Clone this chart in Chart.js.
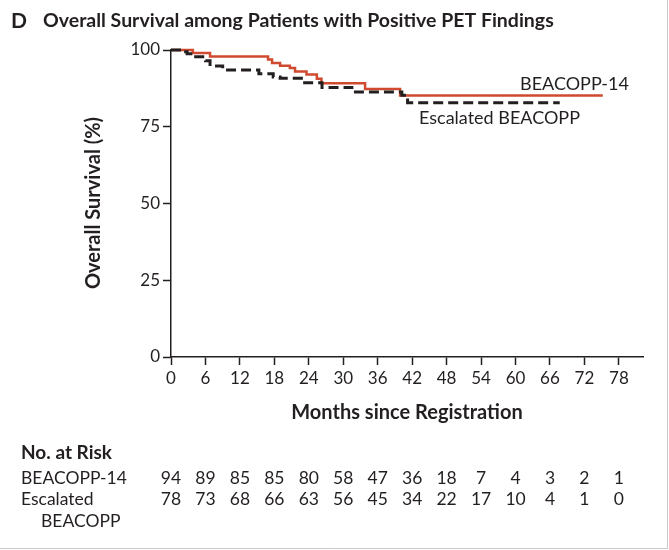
<!DOCTYPE html>
<html>
<head>
<meta charset="utf-8">
<script src="https://cdn.jsdelivr.net/npm/chart.js@4.4.1/dist/chart.umd.min.js"></script>
<style>
  html, body { margin: 0; padding: 0; background: #fff; }
  #wrap { width: 669px; height: 550px; position: relative; }
</style>
</head>
<body>
<div id="wrap"><canvas id="km" width="669" height="550"></canvas></div>
<script>
// Kaplan-Meier step data: month of each event and survival (%) after it
const b14Months   = [0, 3.8, 6.8, 16.9, 17.6, 19.0, 20.7, 21.6, 23.6, 25.4, 26.2, 33.8, 39.9, 75.2];
const b14Survival = [100, 99.0, 97.9, 96.9, 95.8, 94.9, 94.1, 93.0, 92.0, 90.6, 89.2, 87.3, 85.2, 85.2];

const escMonths   = [0, 2.0, 2.8, 4.3, 6.0, 6.8, 9.0, 15.3, 17.8, 19.0, 22.7, 26.3, 31.5, 40.2, 41.2, 67.7];
const escSurvival = [100, 99.4, 98.8, 97.8, 96.5, 94.8, 93.5, 92.3, 91.2, 90.8, 89.3, 87.8, 86.3, 85.3, 82.8, 82.8];

// x-axis tick months and numbers at risk at each tick
const tickMonths = [0, 6, 12, 18, 24, 30, 36, 42, 48, 54, 60, 66, 72, 78];
const riskB14 = [94, 89, 85, 85, 80, 58, 47, 36, 18, 7, 4, 3, 2, 1];
const riskEsc = [78, 73, 68, 66, 63, 56, 45, 34, 22, 17, 10, 4, 1, 0];

const yTicks = [0, 25, 50, 75, 100];

const FONT = 'Lato, "Open Sans", sans-serif';
const INK = '#231f20';
const RED = '#cf4a2e';

const toPoints = (xs, ys) => xs.map((x, i) => ({ x: x, y: ys[i] }));

const annotations = {
  id: 'annotations',
  afterDraw(chart) {
    const ctx = chart.ctx;
    const xs = chart.scales.x;
    ctx.save();
    ctx.fillStyle = INK;
    ctx.textBaseline = 'middle';

    // panel heading
    ctx.textAlign = 'left';
    ctx.font = 'bold 21px ' + FONT;
    ctx.fillText('D', 11, 21);
    ctx.font = 'bold 19.5px ' + FONT;
    ctx.fillText('Overall Survival among Patients with Positive PET Findings', 43, 21);

    // axis titles
    ctx.font = 'bold 20px ' + FONT;
    ctx.textAlign = 'center';
    ctx.fillText('Months since Registration', 407, 413);
    ctx.save();
    ctx.translate(94, 203);
    ctx.rotate(-Math.PI / 2);
    ctx.fillText('Overall Survival (%)', 0, 0);
    ctx.restore();

    // curve labels
    ctx.font = '18px ' + FONT;
    ctx.textAlign = 'left';
    ctx.fillText('BEACOPP-14', 520, 84);
    ctx.fillText('Escalated BEACOPP', 419, 118);

    // numbers at risk
    ctx.font = 'bold 19px ' + FONT;
    ctx.fillText('No. at Risk', 21, 453);
    ctx.font = '17.5px ' + FONT;
    ctx.fillText('BEACOPP-14', 21, 478);
    ctx.fillText('Escalated', 21, 499);
    ctx.fillText('BEACOPP', 41, 521);
    ctx.textAlign = 'center';
    tickMonths.forEach((m, i) => {
      const px = xs.getPixelForValue(m);
      ctx.fillText(String(riskB14[i]), px, 478);
      ctx.fillText(String(riskEsc[i]), px, 499);
    });

    // panel frame edges
    ctx.strokeStyle = '#c8c8c8';
    ctx.lineWidth = 1;
    ctx.beginPath();
    ctx.moveTo(667.5, 0);
    ctx.lineTo(667.5, 548.5);
    ctx.lineTo(0, 548.5);
    ctx.stroke();
    ctx.restore();
  }
};

new Chart(document.getElementById('km'), {
  type: 'line',
  data: {
    datasets: [
      {
        label: 'Escalated BEACOPP',
        data: toPoints(escMonths, escSurvival),
        stepped: 'before',
        borderColor: INK,
        borderWidth: 3,
        borderDash: [10, 5],
        pointRadius: 0,
        fill: false,
        clip: false
      },
      {
        label: 'BEACOPP-14',
        data: toPoints(b14Months, b14Survival),
        stepped: 'before',
        borderColor: RED,
        borderWidth: 2.5,
        pointRadius: 0,
        fill: false,
        clip: false
      }
    ]
  },
  options: {
    responsive: false,
    animation: false,
    devicePixelRatio: 1,
    layout: { padding: { top: 50, right: 26, bottom: 0, left: 0 } },
    plugins: { legend: { display: false }, tooltip: { enabled: false }, title: { display: false } },
    scales: {
      x: {
        type: 'linear',
        min: 0,
        max: 82.2,
        afterFit(scale) { scale.height = 193; },
        afterBuildTicks(scale) { scale.ticks = tickMonths.map(v => ({ value: v })); },
        grid: { display: true, drawOnChartArea: false, drawTicks: true, tickLength: 8, tickWidth: 1.5, tickColor: INK },
        border: { display: true, color: INK, width: 1.5 },
        ticks: { color: INK, font: { family: FONT, size: 17 }, padding: 3, maxRotation: 0, autoSkip: false }
      },
      y: {
        min: 0,
        max: 100,
        afterFit(scale) { scale.width = 171; },
        afterBuildTicks(scale) { scale.ticks = yTicks.map(v => ({ value: v })); },
        grid: { display: true, drawOnChartArea: false, drawTicks: true, tickLength: 8, tickWidth: 1.5, tickColor: INK },
        border: { display: true, color: INK, width: 1.5 },
        ticks: { color: INK, font: { family: FONT, size: 17 }, padding: 3 }
      }
    }
  },
  plugins: [annotations]
});
</script>
</body>
</html>
